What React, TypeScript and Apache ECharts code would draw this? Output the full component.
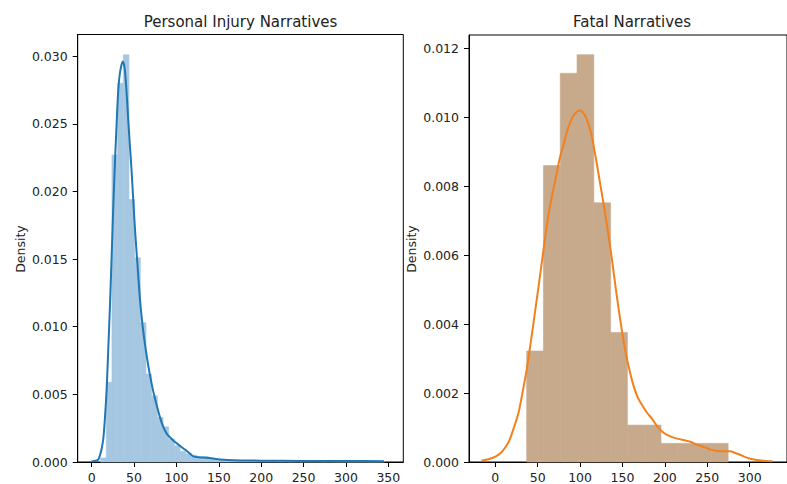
import React, { useEffect, useRef } from "react";
import * as echarts from "echarts";

// Personal injury narratives: 50 equal-width bins (density), plus a KDE curve
const injuryBinStart = 10.5;
const injuryBinWidth = 6.7;
const injuryDensity = [
  0.0003, 0.0059, 0.0227, 0.028, 0.0301, 0.0194, 0.0151, 0.0103, 0.0065, 0.0049,
  0.0033, 0.0026, 0.0017, 0.0012, 0.0008, 0.0006, 0.0005, 0.0004, 0.0004, 0.0003,
  0.0002, 0.0002, 0.00015, 0.0001, 0.0001, 0.0001, 0.00006, 0.00006, 0.00004, 0.00004,
  0.00004, 0.00003, 0.00003, 0.00002, 0.00003, 0.00002, 0.00002, 0.00002, 0.00002, 0.00001,
  0.00002, 0.00001, 0.00001, 0.00001, 0.00001, 0.00001, 0.00001, 0.00001, 0.00001, 0.00002,
];
const injuryKde: [number, number][] = [
  [0, 0.00004], [5, 0.0001], [8, 0.0002], [9.8, 0.0005], [11.8, 0.001], [13.7, 0.0017],
  [15.7, 0.0033], [17.7, 0.0054], [19.6, 0.0084], [21.6, 0.0116], [23.6, 0.0153],
  [25.5, 0.0189], [27.5, 0.0222], [29.5, 0.0251], [31, 0.0271], [32.6, 0.0284],
  [34.6, 0.0292], [36.6, 0.0296], [38, 0.0294], [39.3, 0.0289], [41.3, 0.0272],
  [43.2, 0.0252], [45.2, 0.0233], [47.2, 0.0214], [49.1, 0.0193], [51.1, 0.0172],
  [54, 0.0146], [57, 0.012], [60, 0.0101], [62.9, 0.0087], [65.8, 0.0075], [68.8, 0.0064],
  [72.7, 0.0052], [76.7, 0.0042], [80.6, 0.0033], [84.5, 0.0026], [88.5, 0.0021],
  [96, 0.0016], [104, 0.0012], [110, 0.00092], [116, 0.00062], [120, 0.00042],
  [126, 0.00035], [136, 0.00031], [145, 0.00024], [151, 0.00019], [160, 0.00015],
  [175, 0.00012], [200, 0.0001], [250, 0.00008], [300, 0.00007], [345, 0.00006],
];

// Fatal narratives: 12 equal-width bins (density), plus a KDE curve
const fatalBinStart = 37;
const fatalBinWidth = 19.8;
const fatalDensity = [
  0.00322, 0.0086, 0.01128, 0.01182, 0.00752, 0.00376, 0.00107, 0.00107, 0.00054, 0.00054,
  0.00054, 0.00054,
];
const fatalKde: [number, number][] = [
  [-16.5, 0.00004], [-8, 0.00008], [0.8, 0.00016], [8, 0.0003], [16.1, 0.0006], [22, 0.001],
  [27.6, 0.00145], [32, 0.002], [37.2, 0.0027], [42, 0.0035], [46.8, 0.00434], [51.6, 0.0052],
  [56.4, 0.00607], [61, 0.0069], [66, 0.00761], [71, 0.0082], [75.6, 0.00877], [80.4, 0.0092],
  [85.2, 0.00964], [89, 0.0099], [92.8, 0.01007], [96.5, 0.01017], [99.7, 0.0102],
  [103, 0.01015], [106.2, 0.01004], [110, 0.0098], [113.9, 0.00944], [118.7, 0.0088],
  [123.5, 0.0081], [128.3, 0.0074], [133.1, 0.00665], [138, 0.0058], [142.7, 0.00492],
  [147.5, 0.0041], [152.2, 0.00337], [157, 0.0028], [161.9, 0.00231], [167.5, 0.0019],
  [173.4, 0.00164], [179, 0.00143], [184.9, 0.00125], [192, 0.001], [200.2, 0.00082],
  [208, 0.00073], [215.6, 0.00067], [223, 0.00063], [230.9, 0.00058], [238, 0.0005],
  [246.3, 0.00043], [254, 0.00036], [261.6, 0.00032], [270, 0.00031], [277, 0.00031],
  [283, 0.00026], [288.5, 0.00021], [294, 0.00015], [300, 0.0001], [308, 0.00006],
  [315.3, 0.00004], [326.8, 0.00002],
];

const injuryXTicks = [0, 50, 100, 150, 200, 250, 300, 350];
const fatalXTicks = [0, 50, 100, 150, 200, 250, 300];
const injuryYTicks = [0, 0.005, 0.01, 0.015, 0.02, 0.025, 0.03];
const fatalYTicks = [0, 0.002, 0.004, 0.006, 0.008, 0.01, 0.012];

const titles = ["Personal Injury Narratives", "Fatal Narratives"];
const yLabel = "Density";

const FONT = "DejaVu Sans";
const TEXT = "#222";

function binRows(start: number, width: number, dens: number[]) {
  return dens.map((d, i) => [start + i * width, start + (i + 1) * width, d]);
}

function histSeries(idx: number, rows: number[][], color: string) {
  return {
    type: "custom",
    xAxisIndex: idx,
    yAxisIndex: idx,
    data: rows,
    encode: { x: [0, 1], y: 2 },
    z: 2,
    renderItem: (_params: any, api: any) => {
      const p0 = api.coord([api.value(0), api.value(2)]);
      const p1 = api.coord([api.value(1), 0]);
      return {
        type: "rect",
        shape: { x: p0[0], y: p0[1], width: p1[0] - p0[0], height: p1[1] - p0[1] },
        style: { fill: color, stroke: color, lineWidth: 0.6 },
      };
    },
  };
}

function xAxis(idx: number, min: number, max: number, ticks: number[]) {
  return {
    type: "value",
    gridIndex: idx,
    min,
    max,
    axisLine: { show: true, onZero: false, lineStyle: { color: "#000", width: 1 } },
    splitLine: { show: false },
    axisTick: { show: true, customValues: ticks, length: 5, lineStyle: { color: "#000", width: 1 } },
    axisLabel: {
      customValues: ticks,
      margin: 9,
      color: TEXT,
      fontSize: 12.5,
      fontFamily: FONT,
      formatter: (v: number) => String(v),
    },
  };
}

function yAxis(idx: number, max: number, ticks: number[]) {
  return {
    type: "value",
    gridIndex: idx,
    min: 0,
    max,
    axisLine: { show: true, onZero: false, lineStyle: { color: "#000", width: 1 } },
    splitLine: { show: false },
    axisTick: { show: true, customValues: ticks, length: 5, lineStyle: { color: "#000", width: 1 } },
    axisLabel: {
      customValues: ticks,
      margin: 10,
      color: TEXT,
      fontSize: 12.5,
      fontFamily: FONT,
      formatter: (v: number) => v.toFixed(3),
    },
  };
}

export default function App() {
  const ref = useRef<HTMLDivElement>(null);

  useEffect(() => {
    if (!ref.current) return;
    const chart = echarts.init(ref.current, undefined, { renderer: "svg" });
    const frame = { show: true, borderColor: "#000", borderWidth: 1, backgroundColor: "transparent" };
    chart.setOption({
      animation: false,
      backgroundColor: "#fff",
      grid: [
        { ...frame, left: 77.7, top: 34.5, width: 325.6, height: 428.8 },
        { ...frame, left: 469, top: 35, width: 326, height: 428.3 },
      ],
      xAxis: [xAxis(0, -16.5, 367.7, injuryXTicks), xAxis(1, -31, 344, fatalXTicks)],
      yAxis: [yAxis(0, 0.0316, injuryYTicks), yAxis(1, 0.01239, fatalYTicks)],
      series: [
        histSeries(0, binRows(injuryBinStart, injuryBinWidth, injuryDensity), "#a6c7e1"),
        {
          type: "line",
          xAxisIndex: 0,
          yAxisIndex: 0,
          data: injuryKde,
          showSymbol: false,
          smooth: 0.25,
          z: 3,
          lineStyle: { color: "#1f77b4", width: 2 },
        },
        histSeries(1, binRows(fatalBinStart, fatalBinWidth, fatalDensity), "#c7aa8c"),
        {
          type: "line",
          xAxisIndex: 1,
          yAxisIndex: 1,
          data: fatalKde,
          showSymbol: false,
          smooth: 0.25,
          z: 3,
          lineStyle: { color: "#f2811d", width: 2 },
        },
      ],
      graphic: [
        {
          type: "text",
          x: 240.5,
          y: 21.5,
          style: { text: titles[0], fill: TEXT, font: `15px '${FONT}'`, align: "center", verticalAlign: "middle" },
        },
        {
          type: "text",
          x: 632,
          y: 21.5,
          style: { text: titles[1], fill: TEXT, font: `15px '${FONT}'`, align: "center", verticalAlign: "middle" },
        },
        {
          type: "text",
          x: 20,
          y: 249,
          rotation: Math.PI / 2,
          style: { text: yLabel, fill: TEXT, font: `12.5px '${FONT}'`, align: "center", verticalAlign: "middle" },
        },
        {
          type: "text",
          x: 411.5,
          y: 249,
          rotation: Math.PI / 2,
          style: { text: yLabel, fill: TEXT, font: `12.5px '${FONT}'`, align: "center", verticalAlign: "middle" },
        },
      ],
    });
    return () => chart.dispose();
  }, []);

  return (
    <div
      ref={ref}
      style={{ position: "absolute", left: 0, top: 0, width: 787, height: 484, background: "#fff" }}
    />
  );
}
